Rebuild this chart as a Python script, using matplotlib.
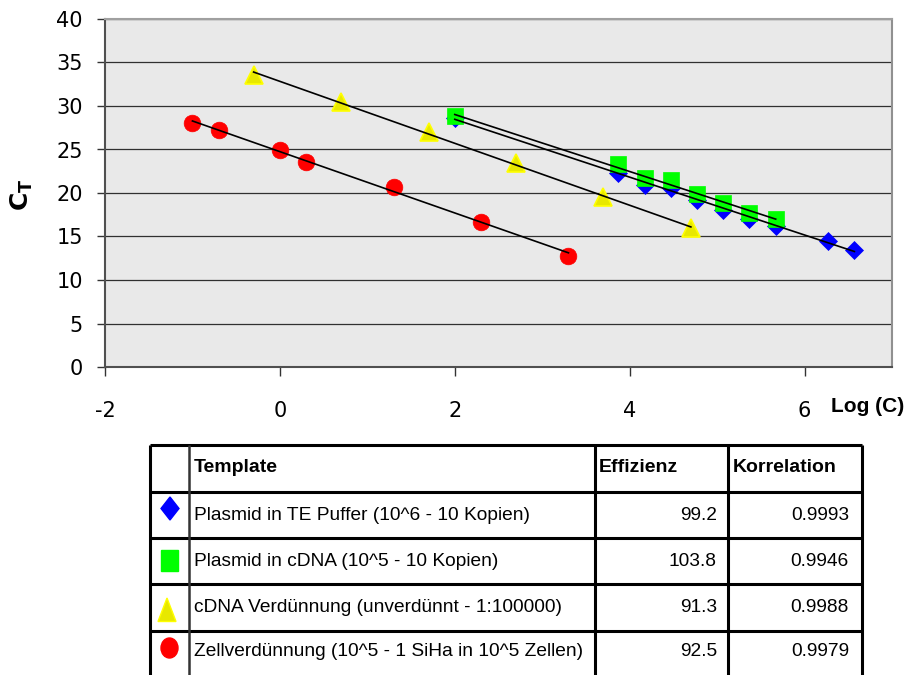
import numpy as np
import matplotlib.pyplot as plt
from matplotlib.patches import Polygon, Rectangle, Ellipse

plt.rcParams['font.family'] = ['Liberation Sans', 'DejaVu Sans']
plt.rcParams['axes.unicode_minus'] = False

# ---- data ----
blue_x = [2.0, 3.87, 4.17, 4.47, 4.77, 5.07, 5.37, 5.67, 6.27, 6.57]
blue_y = [28.6, 22.35, 20.95, 20.55, 19.15, 18.05, 17.05, 16.25, 14.5, 13.4]

green_x = [2.0, 3.87, 4.17, 4.47, 4.77, 5.07, 5.37, 5.67]
green_y = [28.8, 23.3, 21.7, 21.5, 19.85, 18.8, 17.7, 17.0]

yellow_x = [-0.3, 0.7, 1.7, 2.7, 3.7, 4.7]
yellow_y = [33.6, 30.5, 27.0, 23.4, 19.5, 16.0]

red_x = [-1.0, -0.7, 0.0, 0.3, 1.3, 2.3, 3.3]
red_y = [28.0, 27.2, 24.9, 23.6, 20.7, 16.7, 12.8]

templates = ["Plasmid in TE Puffer (10^6 - 10 Kopien)",
             "Plasmid in cDNA (10^5 - 10 Kopien)",
             "cDNA Verdünnung (unverdünnt - 1:100000)",
             "Zellverdünnung (10^5 - 1 SiHa in 10^5 Zellen)"]
effizienz = ["99.2", "103.8", "91.3", "92.5"]
korrelation = ["0.9993", "0.9946", "0.9988", "0.9979"]

x_ticks = [-2, 0, 2, 4, 6]
y_ticks = [0, 5, 10, 15, 20, 25, 30, 35, 40]

# ---- chart ----
fig = plt.figure(figsize=(9.12, 6.75), dpi=100)
ax = fig.add_axes([105/912, 1 - 367/675, 787/912, 348/675])
ax.set_facecolor('#e9e9e9')

series = [
    (blue_x, blue_y, dict(marker='D', ms=9.5, mfc='#0000ff', mec='#0000ff', mew=0.5)),
    (green_x, green_y, dict(marker='s', ms=12, mfc='#00ff00', mec='#00ff00', mew=0.5)),
    (yellow_x, yellow_y, dict(marker='^', ms=12.5, mfc='#e8e800', mec='#ffff00', mew=1.2)),
    (red_x, red_y, dict(marker='o', ms=12, mfc='#ff0000', mec='#ff0000', mew=0.5)),
]
for xs, ys, st in series:
    ax.plot(xs, ys, linestyle='none', zorder=3, **st)

# regression lines over the markers
for xs, ys, st in series:
    k, d = np.polyfit(xs, ys, 1)
    xx = np.array([min(xs), max(xs)])
    ax.plot(xx, k * xx + d, color='black', lw=1.2, zorder=4)

ax.set_xlim(-2, 7)
ax.set_ylim(0, 40)
ax.set_xticks(x_ticks)
ax.set_yticks(y_ticks)
ax.grid(axis='y', color='#303030', lw=0.9)
ax.set_axisbelow(True)
ax.tick_params(axis='x', direction='out', length=6.5, width=1, pad=18,
               labelsize=15, color='#333333')
ax.tick_params(axis='y', direction='out', length=6, width=1, pad=10,
               labelsize=15, color='#333333')
for lab in ax.get_xticklabels() + ax.get_yticklabels():
    lab.set_family('DejaVu Sans')

ax.spines['left'].set_color('#505050')
ax.spines['bottom'].set_color('#505050')
ax.spines['top'].set_color('#a0a0a0')
ax.spines['right'].set_color('#909090')
for s in ax.spines.values():
    s.set_linewidth(1.5)

# ---- overlay in pixel coords for labels and table ----
ov = fig.add_axes([0, 0, 1, 1])
ov.set_xlim(0, 912)
ov.set_ylim(675, 0)
ov.axis('off')

ov.text(22, 195, r'$\mathbf{C_T}$', rotation=90, fontsize=18,
        ha='center', va='center')
ov.text(831, 407, 'Log (C)', fontsize=15, fontweight='bold',
        ha='left', va='center')

col_x = [150, 189, 595, 728, 862]
row_y = [445, 491.5, 538, 584, 630.5]

for y in row_y:
    ov.plot([col_x[0], col_x[-1]], [y, y], color='black', lw=2.2,
            solid_capstyle='butt')
for i, x in enumerate(col_x):
    ov.plot([x, x], [row_y[0], 675], color='black' if i != 1 else '#333333',
            lw=2.2 if i != 1 else 1.8, solid_capstyle='butt')

ov.text(194, 468, 'Template', fontsize=14, fontweight='bold', va='center')
ov.text(599, 468, 'Effizienz', fontsize=14, fontweight='bold', va='center')
ov.text(733, 468, 'Korrelation', fontsize=14, fontweight='bold', va='center')

row_mid = [515, 561, 607, 652]
for yc, t, e, k in zip(row_mid, templates, effizienz, korrelation):
    ov.text(194, yc, t, fontsize=13.8, va='center')
    ov.text(717, yc, e, fontsize=13.8, va='center', ha='right')
    ov.text(849, yc, k, fontsize=13.8, va='center', ha='right')

# legend icons
ov.add_patch(Polygon([(170, 497), (179, 508.5), (170, 520), (161, 508.5)],
                     closed=True, color='#0000ff'))
ov.add_patch(Rectangle((161, 549.5), 17, 21, color='#00ff00'))
ov.add_patch(Polygon([(167, 598), (176, 621.5), (158, 621.5)], closed=True,
                     facecolor='#e8e800', edgecolor='#ffff00', lw=1))
ov.add_patch(Ellipse((169.5, 648), 17, 20, color='#ff0000'))

fig.savefig('out.png', dpi=100)
